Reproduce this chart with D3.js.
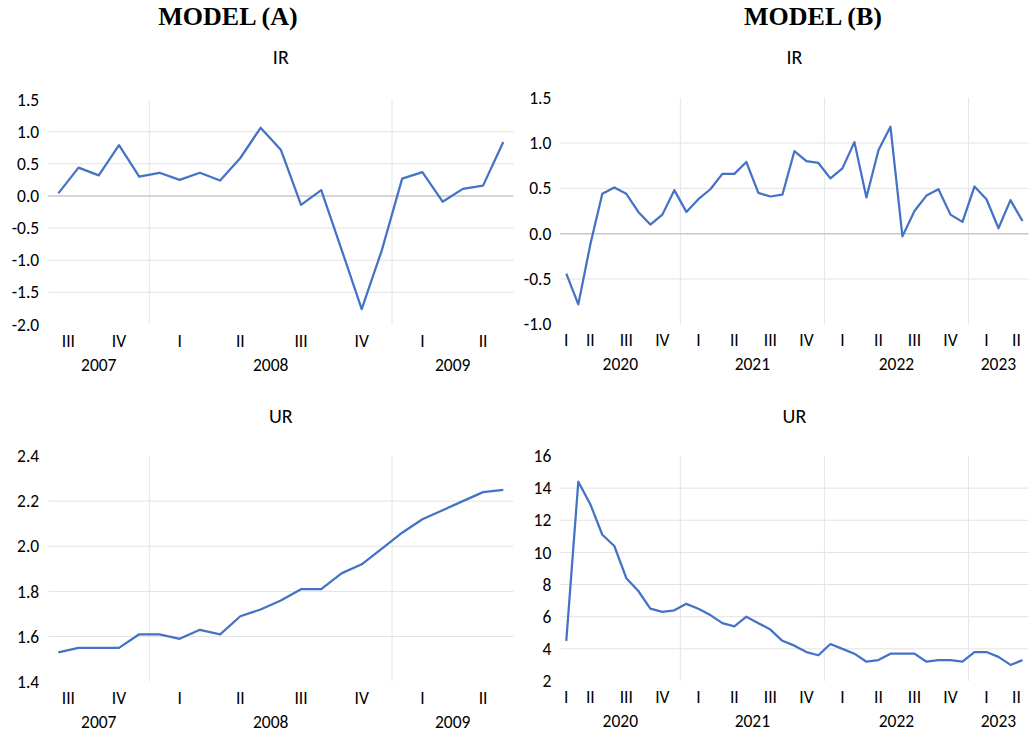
<!DOCTYPE html>
<html>
<head>
<meta charset="utf-8">
<script src="https://cdn.jsdelivr.net/npm/d3@7"></script>
<style>
  body { margin: 0; background: #fff; }
  svg { display: block; }
</style>
</head>
<body>
<svg class="chart"></svg>
<script>
const width = 1029, height = 736;

// monthly categories
const monthsA = [
  "2007-08", "2007-09", "2007-10", "2007-11", "2007-12",
  "2008-01", "2008-02", "2008-03", "2008-04", "2008-05", "2008-06",
  "2008-07", "2008-08", "2008-09", "2008-10", "2008-11", "2008-12",
  "2009-01", "2009-02", "2009-03", "2009-04", "2009-05", "2009-06"
];
const monthsB = [
  "2020-03", "2020-04", "2020-05", "2020-06", "2020-07", "2020-08", "2020-09", "2020-10", "2020-11", "2020-12",
  "2021-01", "2021-02", "2021-03", "2021-04", "2021-05", "2021-06", "2021-07", "2021-08", "2021-09", "2021-10", "2021-11", "2021-12",
  "2022-01", "2022-02", "2022-03", "2022-04", "2022-05", "2022-06", "2022-07", "2022-08", "2022-09", "2022-10", "2022-11", "2022-12",
  "2023-01", "2023-02", "2023-03", "2023-04", "2023-05"
];
const quarterNames = ["I", "II", "III", "IV"];

// series
const irA = [0.04, 0.44, 0.32, 0.79, 0.30, 0.36, 0.25, 0.36, 0.24, 0.59, 1.06, 0.72,
  -0.14, 0.09, -0.83, -1.76, -0.84, 0.27, 0.37, -0.09, 0.11, 0.16, 0.84];
const urA = [1.53, 1.55, 1.55, 1.55, 1.61, 1.61, 1.59, 1.63, 1.61, 1.69, 1.72, 1.76,
  1.81, 1.81, 1.88, 1.92, 1.99, 2.06, 2.12, 2.16, 2.20, 2.24, 2.25];
const irB = [-0.44, -0.78, -0.12, 0.44, 0.51, 0.44, 0.24, 0.10, 0.21, 0.48,
  0.24, 0.38, 0.49, 0.66, 0.66, 0.79, 0.45, 0.41, 0.43, 0.91, 0.80, 0.78,
  0.61, 0.72, 1.01, 0.40, 0.92, 1.18, -0.03, 0.25, 0.42, 0.49, 0.21, 0.13,
  0.52, 0.38, 0.06, 0.37, 0.14];
const urB = [4.5, 14.4, 13.0, 11.1, 10.4, 8.4, 7.6, 6.5, 6.3, 6.4,
  6.8, 6.5, 6.1, 5.6, 5.4, 6.0, 5.6, 5.2, 4.5, 4.2, 3.8, 3.6,
  4.3, 4.0, 3.7, 3.2, 3.3, 3.7, 3.7, 3.7, 3.2, 3.3, 3.3, 3.2,
  3.8, 3.8, 3.5, 3.0, 3.3];

const yTicksIrA = [-2.0, -1.5, -1.0, -0.5, 0.0, 0.5, 1.0, 1.5];
const yTicksUrA = [1.4, 1.6, 1.8, 2.0, 2.2, 2.4];
const yTicksIrB = [-1.0, -0.5, 0.0, 0.5, 1.0, 1.5];
const yTicksUrB = [2, 4, 6, 8, 10, 12, 14, 16];

const locale = d3.formatLocale({decimal: ".", thousands: ",", grouping: [3], currency: ["", ""], minus: "-"});
const font = "Calibri, Carlito, Lato, sans-serif";
const fs = 17.5;
const lineColor = "#4472C4";

const svg = d3.select(".chart")
  .attr("width", width)
  .attr("height", height)
  .attr("font-family", font);

svg.append("rect").attr("width", width).attr("height", height).attr("fill", "#fff");

const drawPanel = (p) => {
  const x = d3.scaleBand().domain(p.months).range([p.left, p.right]).padding(0);
  const y = d3.scaleLinear().domain(d3.extent(p.ticks)).range([p.bottom, p.top]);
  const cx = m => x(m) + x.bandwidth() / 2;
  const g = svg.append("g");

  // horizontal gridlines (no line at the top / bottom of the plot)
  g.append("g")
    .selectAll("line")
    .data(p.ticks.slice(1, -1).filter(t => t !== 0))
    .enter().append("line")
      .attr("x1", p.left).attr("x2", p.right)
      .attr("y1", d => y(d)).attr("y2", d => y(d))
      .attr("stroke", "#e3e3e3")
      .attr("stroke-width", 1);

  // year separators
  const years = Array.from(new Set(p.months.map(m => m.slice(0, 4))));
  const janMonths = p.months.filter((m, i) => i > 0 && m.endsWith("-01"));
  g.append("g")
    .selectAll("line")
    .data(janMonths)
    .enter().append("line")
      .attr("x1", d => x(d)).attr("x2", d => x(d))
      .attr("y1", p.top).attr("y2", p.bottom)
      .attr("stroke", "#e6e6e6")
      .attr("stroke-width", 1);

  // zero line
  if (y.domain()[0] < 0) {
    g.append("line")
      .attr("x1", p.left).attr("x2", p.right)
      .attr("y1", y(0)).attr("y2", y(0))
      .attr("stroke", "#c8c8c8")
      .attr("stroke-width", 1.5);
  }

  // y axis labels
  const yAxis = g.append("g")
    .attr("transform", `translate(${p.left},0)`)
    .call(d3.axisLeft(y).tickValues(p.ticks).tickFormat(locale.format(p.fmt)).tickSize(0).tickPadding(9));
  yAxis.select(".domain").remove();
  yAxis.selectAll("text")
    .attr("font-family", font)
    .attr("font-size", fs)
    .attr("fill", "#000");

  // quarter labels
  const quarters = d3.groups(p.months, m => m.slice(0, 4) + "Q" + Math.floor((+m.slice(5) - 1) / 3));
  g.append("g")
    .selectAll("text")
    .data(quarters)
    .enter().append("text")
      .attr("x", d => d3.mean(d[1], cx))
      .attr("y", p.bottom + 16)
      .attr("dy", "0.35em")
      .attr("text-anchor", "middle")
      .attr("font-size", fs)
      .text(d => quarterNames[+d[0].slice(-1)]);

  // year labels
  g.append("g")
    .selectAll("text")
    .data(years)
    .enter().append("text")
      .attr("x", d => {
        const ms = p.months.filter(m => m.startsWith(d));
        return (x(ms[0]) + x(ms[ms.length - 1]) + x.bandwidth()) / 2;
      })
      .attr("y", p.bottom + 40)
      .attr("dy", "0.35em")
      .attr("text-anchor", "middle")
      .attr("font-size", fs)
      .text(d => d);

  // series line
  const line = d3.line()
    .x((d, i) => cx(p.months[i]))
    .y(d => y(d));
  g.append("path")
    .datum(p.values)
    .attr("fill", "none")
    .attr("stroke", lineColor)
    .attr("stroke-width", 2.25)
    .attr("stroke-linejoin", "round")
    .attr("d", line);

  // panel title
  g.append("text")
    .attr("x", (p.left + p.right) / 2)
    .attr("y", p.titleY)
    .attr("text-anchor", "middle")
    .attr("font-size", 20)
    .text(p.name);
};

drawPanel({months: monthsA, values: irA, ticks: yTicksIrA, fmt: ".1f", name: "IR",
  left: 48.2, right: 513.4, top: 99.5, bottom: 324.5, titleY: 64});
drawPanel({months: monthsA, values: urA, ticks: yTicksUrA, fmt: ".1f", name: "UR",
  left: 48.2, right: 513.4, top: 456, bottom: 681.7, titleY: 423});
drawPanel({months: monthsB, values: irB, ticks: yTicksIrB, fmt: ".1f", name: "IR",
  left: 560.3, right: 1028.5, top: 97.7, bottom: 324.3, titleY: 64});
drawPanel({months: monthsB, values: urB, ticks: yTicksUrB, fmt: "d", name: "UR",
  left: 560.3, right: 1028.5, top: 456, bottom: 681, titleY: 423});

// model headings
svg.selectAll(".heading")
  .data([["MODEL (A)", 228], ["MODEL (B)", 813]])
  .enter().append("text")
    .attr("class", "heading")
    .attr("x", d => d[1])
    .attr("y", 25)
    .attr("text-anchor", "middle")
    .attr("font-family", "'Times New Roman', 'Liberation Serif', serif")
    .attr("font-weight", "bold")
    .attr("font-size", 26)
    .text(d => d[0]);
</script>
</body>
</html>
